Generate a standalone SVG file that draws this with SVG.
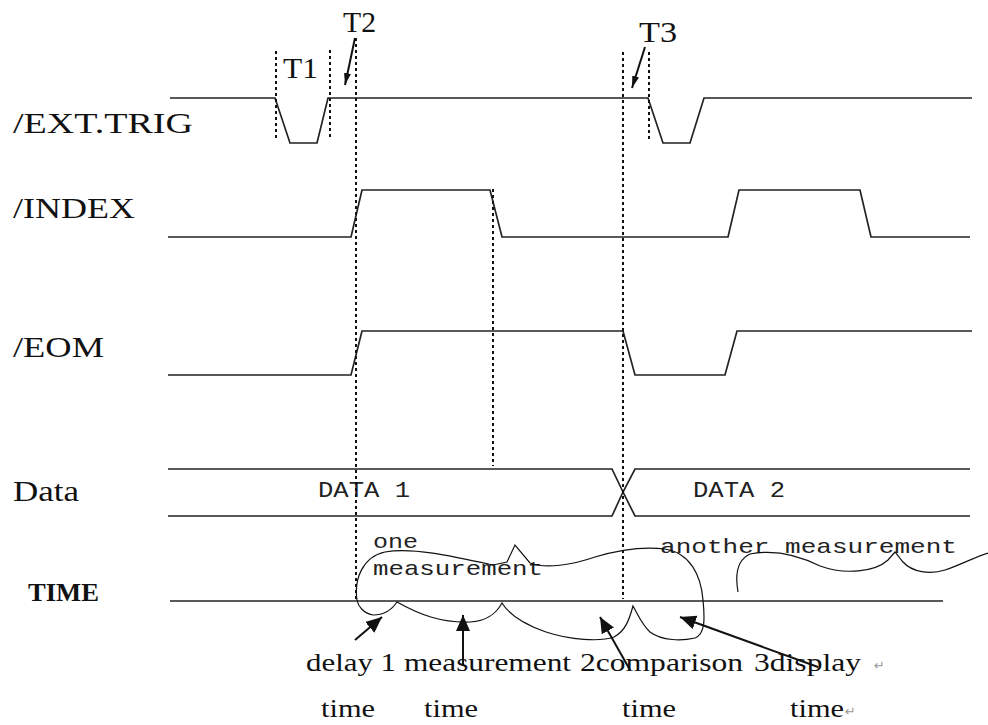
<svg xmlns="http://www.w3.org/2000/svg" width="988" height="725" viewBox="0 0 988 725">
<style>
.sig{fill:none;stroke:#222;stroke-width:1.7;stroke-linejoin:miter}
.dot{fill:none;stroke:#111;stroke-width:2;stroke-dasharray:3 3}
.hand{fill:none;stroke:#111;stroke-width:1.2}
.arr{fill:none;stroke:#111;stroke-width:2}
.lbl{font-family:"Liberation Serif","Times New Roman",serif;fill:#111}
.mono{font-family:"Liberation Mono","Courier New",monospace;fill:#222}
.ret{font-family:"DejaVu Sans",sans-serif;fill:#999;font-size:13px}
</style>
<defs>
<marker id="headBig" markerUnits="userSpaceOnUse" markerWidth="18" markerHeight="16" refX="16" refY="7" orient="auto">
<path d="M0,0 L16,7 L0,14 Z" fill="#111"/>
</marker>
<marker id="headSmall" markerUnits="userSpaceOnUse" markerWidth="14" markerHeight="8" refX="12" refY="3.5" orient="auto">
<path d="M0,0 L12,3.5 L0,7 Z" fill="#111"/>
</marker>
</defs>
<rect width="988" height="725" fill="#fff"/>

<g id="labels" class="lbl">
<text x="13" y="133" font-size="30" textLength="180" lengthAdjust="spacingAndGlyphs">/EXT.TRIG</text>
<text x="13" y="218" font-size="30" textLength="122" lengthAdjust="spacingAndGlyphs">/INDEX</text>
<text x="13" y="357" font-size="30" textLength="91" lengthAdjust="spacingAndGlyphs">/EOM</text>
<text x="13" y="501" font-size="30" textLength="66" lengthAdjust="spacingAndGlyphs">Data</text>
<text x="28" y="601" font-size="26" font-weight="bold" textLength="71" lengthAdjust="spacingAndGlyphs">TIME</text>
</g>

<g id="markers-T" class="lbl">
<text x="283" y="78" font-size="30" textLength="35" lengthAdjust="spacingAndGlyphs">T1</text>
<text x="343" y="32" font-size="30" textLength="33" lengthAdjust="spacingAndGlyphs">T2</text>
<text x="639" y="42" font-size="30" textLength="38" lengthAdjust="spacingAndGlyphs">T3</text>
</g>

<g id="signal-exttrig">
<path class="sig" d="M170,98 H275 L290,143 H317 L328,98 H648 L663,143 H690 L704,98 H972"/>
</g>
<g id="signal-index">
<path class="sig" d="M168,237 H351 L362,190 H490 L502,237 H728 L739,190 H860 L871,237 H970"/>
</g>
<g id="signal-eom">
<path class="sig" d="M168,375 H351 L362,331 H623 L635,375 H725 L737,331 H972"/>
</g>
<g id="signal-data">
<path class="sig" d="M168,469 H612 L623,492 L635,516 H970"/>
<path class="sig" d="M168,516 H612 L623,492 L635,469 H970"/>
<text class="mono" x="318" y="497" font-size="22" textLength="92" lengthAdjust="spacingAndGlyphs">DATA 1</text>
<text class="mono" x="693" y="497" font-size="22" textLength="92" lengthAdjust="spacingAndGlyphs">DATA 2</text>
</g>
<g id="signal-time">
<path class="sig" d="M170,601 H943"/>
</g>

<g id="dotted-guides">
<path class="dot" d="M276,51 V139"/>
<path class="dot" d="M330,50 V139"/>
<path class="dot" d="M356,38 V599"/>
<path class="dot" d="M493,189 V466"/>
<path class="dot" d="M623,52 V599"/>
<path class="dot" d="M649,52 V139"/>
</g>

<g id="connectors">
<path class="arr" d="M355,38 L345,85" marker-end="url(#headSmall)" stroke-width="1.5"/>
<path class="arr" d="M645,47 L632,88" marker-end="url(#headSmall)" stroke-width="1.5"/>
<path class="arr" d="M355,640 L382,617" marker-end="url(#headBig)"/>
<path class="arr" d="M463,666 L463,615" marker-end="url(#headBig)"/>
<path class="arr" d="M630,670 L600,617" marker-end="url(#headBig)"/>
<path class="arr" d="M818,667 L680,617" marker-end="url(#headBig)"/>
</g>

<g id="annotations">
<text class="mono" x="373" y="548" font-size="21" textLength="45" lengthAdjust="spacingAndGlyphs">one</text>
<text class="mono" x="373" y="575" font-size="21" textLength="170" lengthAdjust="spacingAndGlyphs">measurement</text>
<text class="mono" x="660" y="553" font-size="21" textLength="297" lengthAdjust="spacingAndGlyphs">another measurement</text>
<path class="hand" d="M357,600 C354,580 362,557 385,552 C412,547 452,556 493,565 L507,562 L515,545 L530,563 C546,569 572,565 595,557 C615,551 640,546 665,549 C690,553 701,575 703,600 C705,620 705,634 695,638 C682,641 662,641 650,632 C642,625 637,613 633,606 C630,616 627,630 614,637 C600,642 570,640 546,632 C526,625 510,616 502,603 C497,612 489,621 470,622 C442,623 420,615 397,602 C393,608 385,615 373,615 C363,613 358,606 357,600 Z"/>
<path class="hand" d="M738,592 C735,575 737,560 750,554 C775,549 800,556 820,566 C845,575 875,572 888,560 L895,552 L903,562 C912,572 930,575 945,570 C960,565 975,557 988,553"/>
</g>

<g id="captions" class="lbl">
<text x="306" y="671" font-size="25" textLength="90" lengthAdjust="spacingAndGlyphs">delay 1</text>
<text x="404" y="671" font-size="25" textLength="167" lengthAdjust="spacingAndGlyphs">measurement</text>
<text x="580" y="671" font-size="25" textLength="163" lengthAdjust="spacingAndGlyphs">2comparison</text>
<text x="754" y="671" font-size="25" textLength="107" lengthAdjust="spacingAndGlyphs">3display</text>
<text class="ret" x="874" y="670">↵</text>
<text x="321" y="717" font-size="25" textLength="54" lengthAdjust="spacingAndGlyphs">time</text>
<text x="424" y="717" font-size="25" textLength="54" lengthAdjust="spacingAndGlyphs">time</text>
<text x="622" y="717" font-size="25" textLength="54" lengthAdjust="spacingAndGlyphs">time</text>
<text x="790" y="717" font-size="25" textLength="54" lengthAdjust="spacingAndGlyphs">time</text>
<text class="ret" x="845" y="716">↵</text>
</g>
</svg>
